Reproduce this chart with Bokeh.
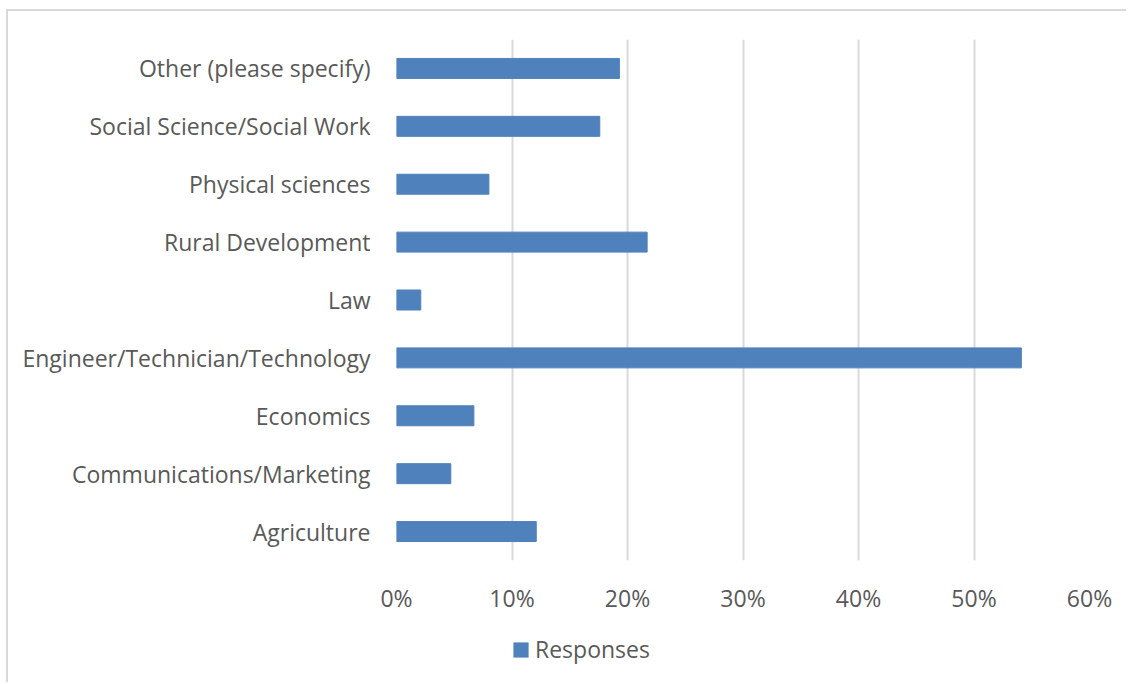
from bokeh.plotting import figure
from bokeh.layouts import column
from bokeh.models import (ColumnDataSource, FactorRange, Range1d, NumeralTickFormatter,
                          FixedTicker, Legend, LegendItem)
from bokeh.embed import file_html
from bokeh.resources import INLINE

categories = ["Agriculture", "Communications/Marketing", "Economics",
              "Engineer/Technician/Technology", "Law", "Rural Development",
              "Physical sciences", "Social Science/Social Work", "Other (please specify)"]
responses = [0.121, 0.047, 0.067, 0.541, 0.021, 0.217, 0.080, 0.176, 0.193]
x_ticks = [0.0, 0.1, 0.2, 0.3, 0.4, 0.5, 0.6]
series_name = "Responses"

BAR = "#4F81BD"
GRID = "#D9D9D9"
TXT = "#595959"
FONT = "Open Sans"
FS = "23px"
BORDER = "2px solid #D9D9D9"

src = ColumnDataSource(dict(cat=categories, val=responses))

p = figure(width=1120, height=620, output_backend="svg", toolbar_location=None,
           y_range=FactorRange(*categories, range_padding=0),
           x_range=Range1d(0, 0.6),
           min_border_left=388, min_border_right=39, min_border_top=28,
           min_border_bottom=71)
p.styles = {"border-top": BORDER, "border-left": BORDER,
            "margin-left": "6px", "margin-top": "9px"}

r = p.hbar(y="cat", right="val", left=0, height=0.345, source=src,
           fill_color=BAR, line_color=BAR)

p.outline_line_color = None
p.xgrid.grid_line_color = GRID
p.xgrid.grid_line_width = 2
p.ygrid.grid_line_color = None

p.xaxis.ticker = FixedTicker(ticks=x_ticks)
p.xaxis.formatter = NumeralTickFormatter(format="0%")
for ax in (p.xaxis[0], p.yaxis[0]):
    ax.axis_line_color = None
    ax.major_tick_line_color = None
    ax.minor_tick_line_color = None
    ax.major_tick_out = 0
    ax.major_tick_in = 0
    ax.minor_tick_out = 0
    ax.major_label_text_font = FONT
    ax.major_label_text_font_size = FS
    ax.major_label_text_color = TXT
p.xaxis.major_label_standoff = 21
p.yaxis.major_label_standoff = 26

# legend strip below the chart (its series proxy lies outside the visible ranges)
p2 = figure(width=1120, height=53, output_backend="svg", toolbar_location=None,
            x_range=Range1d(10, 11), y_range=Range1d(10, 11), min_border=0)
p2.styles = {"border-left": BORDER, "margin-left": "6px"}
p2.axis.visible = False
p2.grid.visible = False
p2.outline_line_color = None
r2 = p2.hbar(y="val", right="val", left=0, height=0.01, source=src,
             fill_color=BAR, line_color=None)

legend = Legend(items=[LegendItem(label=series_name, renderers=[r2])],
                location=(115, 17), orientation="horizontal",
                glyph_width=19, glyph_height=19, label_text_font=FONT,
                label_text_font_size=FS, label_text_color=TXT,
                padding=0, margin=0, border_line_color=None,
                background_fill_alpha=0, label_standoff=5)
p2.add_layout(legend, "center")

layout = column(p, p2, spacing=0)
open("out.html", "w").write(file_html(layout, INLINE))
